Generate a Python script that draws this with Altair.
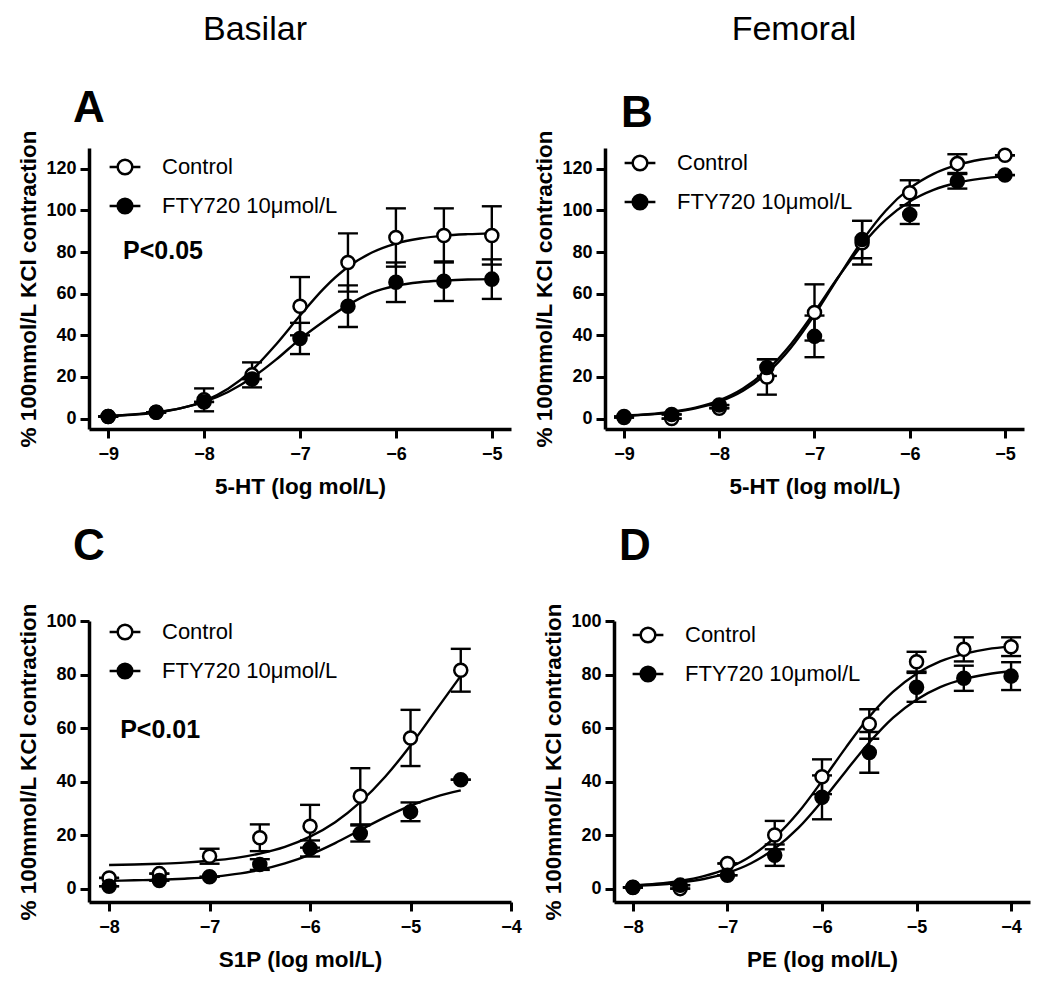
import altair as alt
import pandas as pd

FONT = "Liberation Sans, Arial, Helvetica, sans-serif"
Y_TITLE = "% 100mmol/L KCl contraction"
SERIES = ["Control", "FTY720 10\u03bcmol/L"]

# ---------------- Panel A : Basilar, 5-HT ----------------
A_x = [-9, -8.5, -8, -7.5, -7, -6.5, -6, -5.5, -5]
A_ctrl = [1, 3, 9, 21, 54, 75, 87, 88, 88]
A_ctrl_sem = [0, 0, 5.5, 6, 14, 14, 14, 13, 14]
A_fty = [1, 3, 8, 19, 38.5, 54, 65.5, 66, 67]
A_fty_sem = [0, 0, 0, 0, 7.5, 10, 9.5, 9.5, 9.5]
A_cx = [-9, -8.75, -8.5, -8.25, -8, -7.75, -7.5, -7.25, -7, -6.75, -6.5, -6.25, -6, -5.75, -5.5, -5.25, -5]
A_ctrl_fit = [1.2, 1.8, 2.9, 4.9, 8.4, 14.3, 23.3, 35.6, 49.5, 62.6, 72.8, 79.8, 84.1, 86.5, 87.9, 88.6, 89.0]
A_fty_fit = [1.3, 2.0, 3.1, 4.9, 8.0, 12.8, 19.6, 28.3, 38.2, 46.8, 54.5, 60.5, 63.8, 65.5, 66.3, 66.8, 67.0]

# ---------------- Panel B : Femoral, 5-HT ----------------
B_x = [-9, -8.5, -8, -7.5, -7, -6.5, -6, -5.5, -5]
B_ctrl = [0.5, 0, 5, 20, 51, 84.5, 108.5, 122.5, 126.5]
B_ctrl_sem = [0, 0, 0, 8.5, 13.5, 10.5, 6, 4.5, 0]
B_fty = [1, 2, 6.5, 24.5, 39.5, 86, 98, 114, 117]
B_fty_sem = [0, 0, 0, 4, 10, 9, 4.5, 3.5, 0]
B_cx = [-9, -8.75, -8.5, -8.25, -8, -7.75, -7.5, -7.25, -7, -6.75, -6.5, -6.25, -6, -5.75, -5.5, -5.25, -5]
B_ctrl_fit = [1.3, 1.9, 3.0, 4.9, 8.1, 13.4, 21.7, 33.9, 49.8, 67.9, 85.4, 100.0, 110.6, 117.6, 121.9, 124.5, 126.0]
B_fty_fit = [1.4, 2.1, 3.3, 5.3, 8.8, 14.5, 23.2, 35.6, 51.2, 68.0, 83.4, 95.7, 104.3, 109.9, 113.3, 115.3, 116.5]

# ---------------- Panel C : Basilar, S1P ----------------
C_x = [-8, -7.5, -7, -6.5, -6, -5.5, -5, -4.5]
C_ctrl = [4.0, 5.6, 12.1, 19.0, 23.3, 34.5, 56.3, 81.6]
C_ctrl_sem = [0, 0, 2.8, 5, 8, 10.5, 10.5, 8]
C_fty = [0.9, 3.0, 4.4, 9.0, 15.0, 20.6, 28.7, 40.7]
C_fty_sem = [0, 0, 0, 2, 3, 3, 3.5, 0]
C_cx = [-8, -7.75, -7.5, -7.25, -7, -6.75, -6.5, -6.25, -6, -5.75, -5.5, -5.25, -5, -4.75, -4.5]
C_ctrl_fit = [8.8, 9.0, 9.3, 9.7, 10.4, 11.4, 13.1, 15.6, 19.4, 24.8, 32.3, 41.9, 53.5, 66.5, 79.5]
C_fty_fit = [2.9, 3.1, 3.3, 3.7, 4.3, 5.4, 7.0, 9.4, 12.7, 17.0, 21.9, 26.7, 31.0, 34.3, 36.7]

# ---------------- Panel D : Femoral, PE ----------------
D_x = [-8, -7.5, -7, -6.5, -6, -5.5, -5, -4.5, -4]
D_ctrl = [0.5, 0, 9.4, 20, 41.8, 61.5, 84.8, 89.4, 90.4]
D_ctrl_sem = [0, 0, 0, 5.3, 6.5, 5.5, 3.7, 4.5, 3.5]
D_fty = [0.4, 1.3, 5.0, 12.5, 34.1, 50.9, 75.2, 78.6, 79.4]
D_fty_sem = [0, 0, 0, 4, 8.2, 7.6, 5.4, 4.7, 5.2]
D_cx = [-8, -7.75, -7.5, -7.25, -7, -6.75, -6.5, -6.25, -6, -5.75, -5.5, -5.25, -5, -4.75, -4.5, -4.25, -4]
D_ctrl_fit = [1.2, 1.8, 2.9, 4.7, 7.6, 12.2, 19.1, 28.5, 40.2, 52.6, 64.2, 73.5, 80.3, 84.9, 87.7, 89.5, 90.5]
D_fty_fit = [1.0, 1.4, 2.3, 3.6, 5.9, 9.5, 15.0, 22.7, 32.7, 43.8, 54.6, 63.8, 70.6, 75.3, 78.3, 80.1, 81.2]

LEGEND_PATH = "M-2.1,0L-1,0M1,0L2.1,0M-1,0A1,1 0 1,1 1,0A1,1 0 1,1 -1,0Z"


def panel(x, ctrl, ctrl_sem, fty, fty_sem, cx, cfit, ffit, xdom, ydom, xticks, yticks,
          xtitle, width, height, letter, letter_xy, legend_xy, header=None, header_xy=None,
          ptext=None):
    rows = []
    for s, ys, es in ((SERIES[0], ctrl, ctrl_sem), (SERIES[1], fty, fty_sem)):
        for xi, yi, ei in zip(x, ys, es):
            rows.append({"x": xi, "y": yi, "lo": yi - ei, "hi": yi + ei, "series": s})
    pts = pd.DataFrame(rows)
    crv = pd.DataFrame(
        [{"x": a, "y": b, "series": SERIES[0]} for a, b in zip(cx, cfit)]
        + [{"x": a, "y": b, "series": SERIES[1]} for a, b in zip(cx, ffit)]
    )
    xs = alt.Scale(domain=xdom, nice=False, zero=False)
    ys = alt.Scale(domain=ydom, nice=False, zero=False)
    xa = alt.Axis(values=xticks, title=xtitle, format="d")
    ya = alt.Axis(values=yticks, title=Y_TITLE, format="d")

    def X(f="x"):
        return alt.X(f + ":Q", scale=xs, axis=xa)

    def Y(f):
        return alt.Y(f + ":Q", scale=ys, axis=ya)

    curves = alt.Chart(crv).mark_line(color="black", strokeWidth=2.4, interpolate="monotone").encode(
        x=X(), y=Y("y"), detail="series:N")
    rules = alt.Chart(pts).mark_rule(color="black", strokeWidth=2.4, opacity=1).encode(
        x=X(), y=Y("lo"), y2="hi:Q")
    cap_hi = alt.Chart(pts).mark_tick(color="black", orient="horizontal", size=20, thickness=2.4,
                                      opacity=1).encode(x=X(), y=Y("hi"))
    cap_lo = alt.Chart(pts).mark_tick(color="black", orient="horizontal", size=20, thickness=2.4,
                                      opacity=1).encode(x=X(), y=Y("lo"))
    points = alt.Chart(pts).mark_point(shape="circle", filled=True, size=170, stroke="black",
                                       strokeWidth=2.5, opacity=1).encode(
        x=X(), y=Y("y"),
        fill=alt.Fill("series:N", scale=alt.Scale(domain=SERIES, range=["white", "black"]),
                      legend=alt.Legend(title=None, orient="none", legendX=legend_xy[0] - 7,
                                        legendY=legend_xy[1] - 11, symbolType=LEGEND_PATH,
                                        symbolSize=215, symbolStrokeColor="black",
                                        symbolStrokeWidth=2.5, labelFont=FONT, labelFontSize=22,
                                        labelFontWeight="normal", labelColor="black",
                                        labelOffset=26, rowPadding=13, padding=0,
                                        labelLimit=400)),
    )
    layers = [curves, rules, cap_hi, cap_lo, points]

    lt = pd.DataFrame({"t": [letter]})
    layers.append(alt.Chart(lt).mark_text(font=FONT, fontSize=44, fontWeight="bold", align="left",
                                          baseline="alphabetic", color="black").encode(
        x=alt.value(letter_xy[0]), y=alt.value(letter_xy[1]), text="t:N"))
    if header:
        ht = pd.DataFrame({"t": [header]})
        layers.append(alt.Chart(ht).mark_text(font=FONT, fontSize=34, fontWeight="normal",
                                              align="center", baseline="middle", color="black").encode(
            x=alt.value(header_xy[0]), y=alt.value(header_xy[1]), text="t:N"))
    if ptext:
        pt = pd.DataFrame({"x": [ptext[0]], "y": [ptext[1]], "t": [ptext[2]]})
        layers.append(alt.Chart(pt).mark_text(font=FONT, fontSize=25, fontWeight="bold",
                                              align="left", baseline="middle", color="black").encode(
            x=X(), y=Y("y"), text="t:N"))
    return alt.layer(*layers).properties(width=width, height=height)


pA = panel(A_x, A_ctrl, A_ctrl_sem, A_fty, A_fty_sem, A_cx, A_ctrl_fit, A_fty_fit,
           [-9.2, -4.8], [-5, 130], [-9, -8, -7, -6, -5], [0, 20, 40, 60, 80, 100, 120],
           "5-HT (log mol/L)", 422, 281, "A", (-16, -26), (32, 19),
           header="Basilar", header_xy=(166, -118), ptext=(-8.845, 80.5, "P<0.05"))
pB = panel(B_x, B_ctrl, B_ctrl_sem, B_fty, B_fty_sem, B_cx, B_ctrl_fit, B_fty_fit,
           [-9.2, -4.8], [-5, 130], [-9, -8, -7, -6, -5], [0, 20, 40, 60, 80, 100, 120],
           "5-HT (log mol/L)", 419, 281, "B", (16, -21), (31, 15),
           header="Femoral", header_xy=(189, -118))
pC = panel(C_x, C_ctrl, C_ctrl_sem, C_fty, C_fty_sem, C_cx, C_ctrl_fit, C_fty_fit,
           [-8.2, -4.0], [-5, 100], [-8, -7, -6, -5, -4], [0, 20, 40, 60, 80, 100],
           "S1P (log mol/L)", 422, 281, "C", (-16, -61), (32, 11),
           ptext=(-7.89, 59.3, "P<0.01"))
pD = panel(D_x, D_ctrl, D_ctrl_sem, D_fty, D_fty_sem, D_cx, D_ctrl_fit, D_fty_fit,
           [-8.2, -3.8], [-5, 100], [-8, -7, -6, -5, -4], [0, 20, 40, 60, 80, 100],
           "PE (log  mol/L)", 416, 281, "D", (5, -61), (30, 14))

row1 = alt.hconcat(pA, pB, spacing=22).resolve_scale(fill="independent")
row2 = alt.hconcat(pC, pD, spacing=20).resolve_scale(fill="independent")

chart = (
    alt.vconcat(row1, row2, spacing=27)
    .resolve_scale(fill="independent")
    .properties(padding={"left": 9, "top": 5, "right": 5, "bottom": 5}, background="white")
    .configure_view(stroke=None)
    .configure_axis(
        grid=False, domainColor="black", domainWidth=3.5, tickColor="black", tickWidth=3,
        tickSize=9, labelFont=FONT, labelFontSize=18, labelFontWeight="bold",
        labelColor="black", titleFont=FONT, titleFontSize=22.5, titleFontWeight="bold",
        titleColor="black", labelFlush=False, labelOverlap=False, domainOpacity=1,
        tickOpacity=1,
    )
    .configure_axisX(labelPadding=7, titlePadding=12)
    .configure_axisY(labelPadding=4, titlePadding=5)
)

chart.save("out.html", embed_options={"renderer": "svg", "actions": False})
